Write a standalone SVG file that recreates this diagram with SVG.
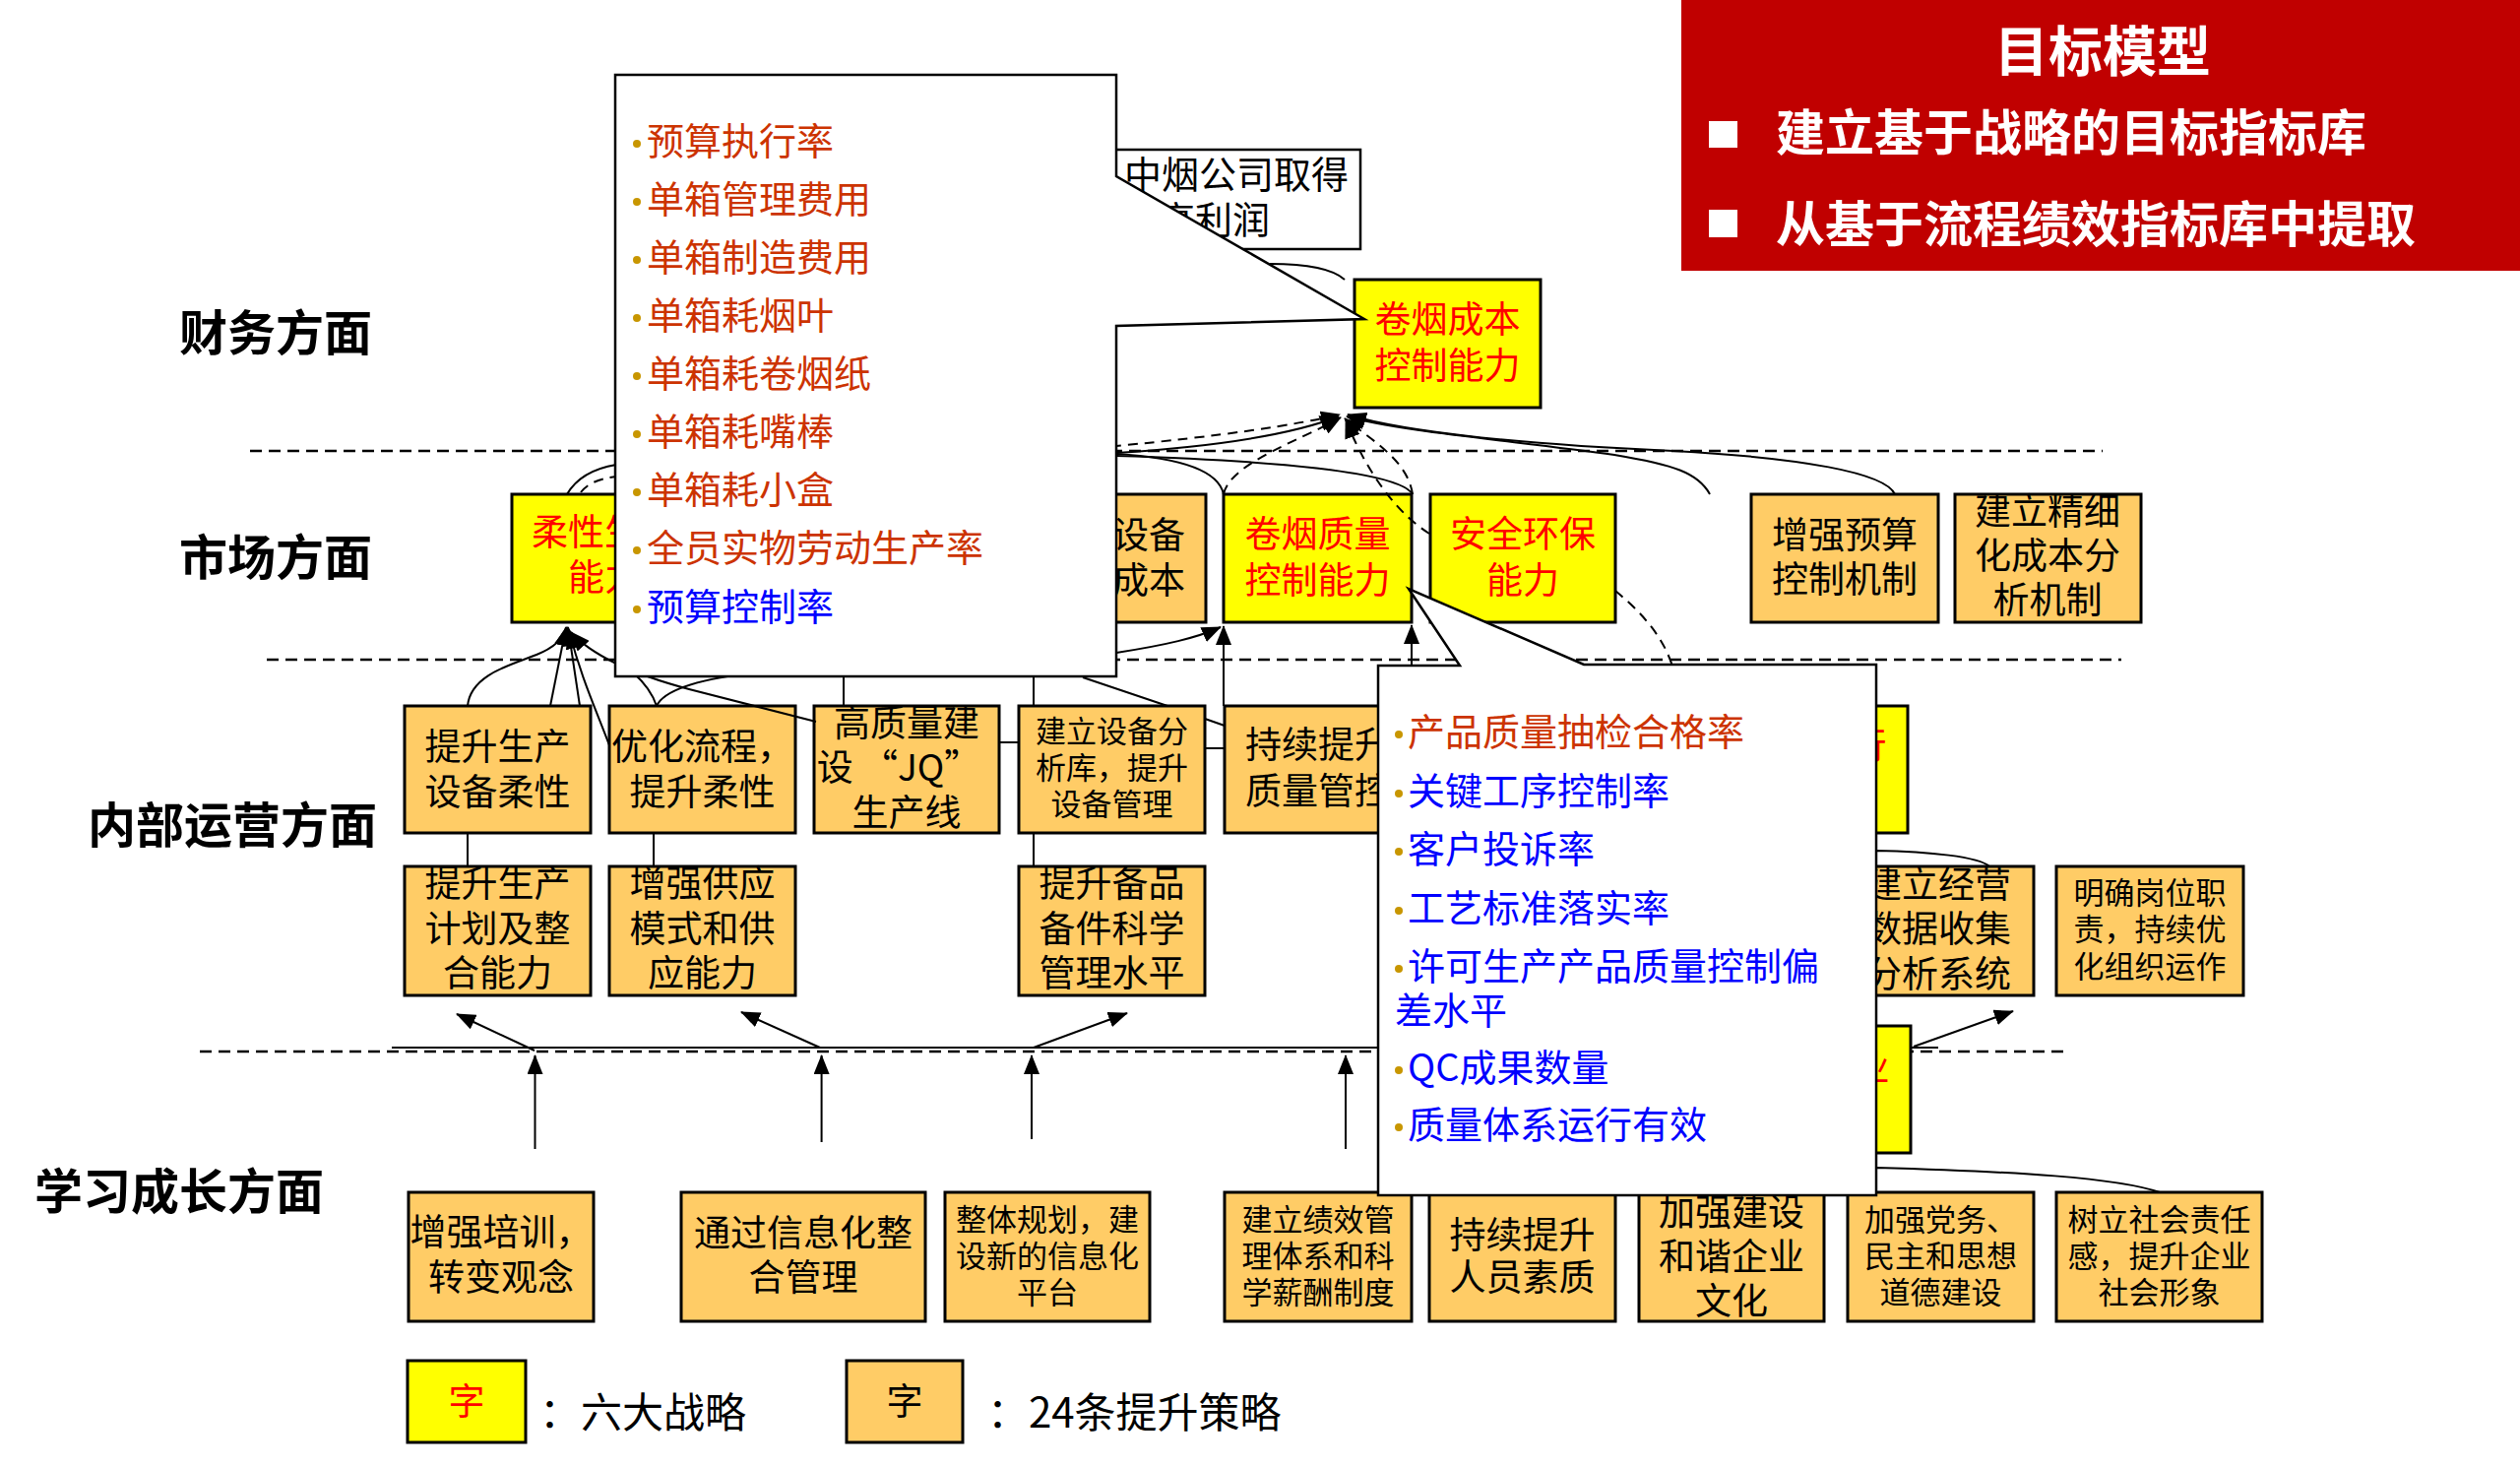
<svg xmlns="http://www.w3.org/2000/svg" width="2560" height="1490" viewBox="0 0 2560 1490">
<defs>
<marker id="ah" viewBox="0 0 20 16" refX="19" refY="8" markerWidth="20" markerHeight="16" markerUnits="userSpaceOnUse" orient="auto"><path d="M0,0 L20,8 L0,16 z" fill="#000"/></marker>
<style>
text{font-family:"Noto Sans CJK SC","Noto Sans CJK JP",sans-serif;}
.box{stroke:#000;stroke-width:3}
.y{fill:#FFFF00}
.o{fill:#FFCC66}
.t{font-size:37px;text-anchor:middle;fill:#000}
.ts{font-size:31px}
.r{fill:#FF0000}
.lbl{font-weight:700;font-size:49px;fill:#000}
.hd{font-weight:700;fill:#fff}
.pop{fill:#fff;stroke:#000;stroke-width:2.5}
.pt{font-size:38px}
.or{fill:#CC3300}
.bl{fill:#0000FF}
.dot{fill:#C89600}
.sep{stroke:#000;stroke-width:2.5;stroke-dasharray:12 7;fill:none}
.c{stroke:#000;stroke-width:2;fill:none}
.cd{stroke-dasharray:10 7}
.lg{font-size:42px;fill:#000}
</style>
</defs>
<rect width="2560" height="1490" fill="#fff"/>

<g id="separators">
<path class="sep" d="M254,458 H2136"/>
<path class="sep" d="M271,670 H2155"/>
<path class="sep" d="M203,1068 H2100"/>
</g>

<g id="layer-labels">
<text class="lbl" x="182" y="356">财务方面</text>
<text class="lbl" x="182" y="584">市场方面</text>
<text class="lbl" x="89" y="856">内部运营方面</text>
<text class="lbl" x="35" y="1228">学习成长方面</text>
</g>

<g id="header">
<rect x="1708" y="0" width="852" height="275" fill="#C00000"/>
<text class="hd" x="2136" y="72" font-size="55" text-anchor="middle">目标模型</text>
<rect x="1736" y="123" width="29" height="27" fill="#fff"/>
<text class="hd" x="1804" y="153" font-size="50">建立基于战略的目标指标库</text>
<rect x="1736" y="213" width="29" height="28" fill="#fff"/>
<text class="hd" x="1804" y="246" font-size="50">从基于流程绩效指标库中提取</text>
</g>

<g id="node-zhongyan">
<rect x="1000" y="152" width="382" height="101" fill="#fff" stroke="#000" stroke-width="2.5"/>
<text class="pt" x="1142" y="191">中烟公司取得</text>
<text class="pt" x="1138" y="237">较高利润</text>
</g>

<g id="node-cost">
<rect class="box y" x="1376" y="284" width="189" height="130"/>
<text class="t r" x="1470.5" font-size="38" y="338">卷烟成本</text>
<text class="t r" x="1470.5" font-size="38" y="385">控制能力</text>
</g>

<g id="node-flex">
<rect class="box y" x="520" y="502" width="188" height="130"/>
<text class="t r" x="614" y="554">柔性生产</text>
<text class="t r" x="614" y="600">能力</text>
</g>
<g id="node-equip-cost">
<rect class="box o" x="1035" y="502" width="190" height="130"/>
<text class="t" x="1130" y="557">降低设备</text>
<text class="t" x="1130" y="603">维修成本</text>
</g>
<g id="node-quality">
<rect class="box y" x="1243" y="502" width="191" height="130"/>
<text class="t r" x="1338.5" y="556">卷烟质量</text>
<text class="t r" x="1338.5" y="603">控制能力</text>
</g>
<g id="node-safety">
<rect class="box y" x="1453" y="502" width="188" height="130"/>
<text class="t r" x="1547" y="556">安全环保</text>
<text class="t r" x="1547" y="603">能力</text>
</g>
<g id="node-budget">
<rect class="box o" x="1779" y="502" width="190" height="130"/>
<text class="t" x="1874" y="557">增强预算</text>
<text class="t" x="1874" y="602">控制机制</text>
</g>
<g id="node-finecost">
<rect class="box o" x="1986" y="502" width="189" height="130"/>
<text class="t" x="2080" y="533">建立精细</text>
<text class="t" x="2080" y="578">化成本分</text>
<text class="t" x="2080" y="623">析机制</text>
</g>

<g id="node-a">
<rect class="box o" x="411" y="717" width="189" height="129"/>
<text class="t" x="505.5" y="772">提升生产</text>
<text class="t" x="505.5" y="818">设备柔性</text>
</g>
<g id="node-b">
<rect class="box o" x="619" y="717" width="189" height="129"/>
<text class="t" x="713.5" y="772">优化流程，</text>
<text class="t" x="713.5" y="818">提升柔性</text>
</g>
<g id="node-c">
<rect class="box o" x="827" y="717" width="188" height="129"/>
<text class="t" x="921" y="748">高质量建</text>
<text class="t" x="913" y="793">设 “JQ”</text>
<text class="t" x="921" y="839">生产线</text>
</g>
<g id="node-d">
<rect class="box o" x="1035" y="717" width="189" height="129"/>
<text class="t ts" x="1129.5" y="754">建立设备分</text>
<text class="t ts" x="1129.5" y="791">析库，提升</text>
<text class="t ts" x="1129.5" y="828">设备管理</text>
</g>
<g id="node-e">
<rect class="box o" x="1244" y="717" width="190" height="129"/>
<text class="t" x="1339" y="770">持续提升</text>
<text class="t" x="1339" y="817">质量管控</text>
</g>
<g id="node-f">
<rect class="box y" x="1747" y="717" width="191" height="129"/>
<text class="t r" x="1842.5" y="771">提升执行</text>
<text class="t r" x="1842.5" y="817">能力</text>
</g>

<g id="node-g">
<rect class="box o" x="411" y="880" width="189" height="131"/>
<text class="t" x="505.5" y="911">提升生产</text>
<text class="t" x="505.5" y="957">计划及整</text>
<text class="t" x="505.5" y="1002">合能力</text>
</g>
<g id="node-h">
<rect class="box o" x="619" y="880" width="189" height="131"/>
<text class="t" x="713.5" y="911">增强供应</text>
<text class="t" x="713.5" y="957">模式和供</text>
<text class="t" x="713.5" y="1002">应能力</text>
</g>
<g id="node-i">
<rect class="box o" x="1035" y="880" width="189" height="131"/>
<text class="t" x="1129.5" y="911">提升备品</text>
<text class="t" x="1129.5" y="957">备件科学</text>
<text class="t" x="1129.5" y="1002">管理水平</text>
</g>
<g id="node-j">
<rect class="box o" x="1872" y="880" width="194" height="131"/>
<text class="t" x="1969" y="912">建立经营</text>
<text class="t" x="1969" y="957">数据收集</text>
<text class="t" x="1969" y="1003">分析系统</text>
</g>
<g id="node-k">
<rect class="box o" x="2089" y="880" width="190" height="131"/>
<text class="t ts" x="2184" y="918">明确岗位职</text>
<text class="t ts" x="2184" y="955">责，持续优</text>
<text class="t ts" x="2184" y="993">化组织运作</text>
</g>
<g id="node-l">
<rect class="box y" x="1750" y="1042" width="191" height="129"/>
<text class="t r" x="1845.5" y="1098">和谐企业</text>
<text class="t r" x="1845.5" y="1144">建设</text>
</g>

<g id="node-m">
<rect class="box o" x="415" y="1211" width="188" height="131"/>
<text class="t" x="509" y="1265">增强培训，</text>
<text class="t" x="509" y="1311">转变观念</text>
</g>
<g id="node-n">
<rect class="box o" x="692" y="1211" width="248" height="131"/>
<text class="t" x="816" y="1266">通过信息化整</text>
<text class="t" x="816" y="1311">合管理</text>
</g>
<g id="node-o">
<rect class="box o" x="960" y="1211" width="208" height="131"/>
<text class="t ts" x="1064" y="1250">整体规划，建</text>
<text class="t ts" x="1064" y="1287">设新的信息化</text>
<text class="t ts" x="1064" y="1324">平台</text>
</g>
<g id="node-p">
<rect class="box o" x="1244" y="1211" width="190" height="131"/>
<text class="t ts" x="1339" y="1250">建立绩效管</text>
<text class="t ts" x="1339" y="1287">理体系和科</text>
<text class="t ts" x="1339" y="1324">学薪酬制度</text>
</g>
<g id="node-q">
<rect class="box o" x="1452" y="1211" width="189" height="131"/>
<text class="t" x="1546.5" y="1268">持续提升</text>
<text class="t" x="1546.5" y="1311">人员素质</text>
</g>
<g id="node-r">
<rect class="box o" x="1665" y="1211" width="188" height="131"/>
<text class="t" x="1759" y="1245">加强建设</text>
<text class="t" x="1759" y="1290">和谐企业</text>
<text class="t" x="1759" y="1335">文化</text>
</g>
<g id="node-s">
<rect class="box o" x="1877" y="1211" width="189" height="131"/>
<text class="t ts" x="1971.5" y="1250">加强党务、</text>
<text class="t ts" x="1971.5" y="1287">民主和思想</text>
<text class="t ts" x="1971.5" y="1324">道德建设</text>
</g>
<g id="node-t">
<rect class="box o" x="2089" y="1211" width="209" height="131"/>
<text class="t ts" x="2193.5" y="1250">树立社会责任</text>
<text class="t ts" x="2193.5" y="1287">感，提升企业</text>
<text class="t ts" x="2193.5" y="1324">社会形象</text>
</g>

<g id="connectors">
<path class="c cd" d="M590,500 Q600,487 626,484 L1134,453 Q1290,438 1361,421" marker-end="url(#ah)"/>
<path class="c" d="M576,502 Q590,478 626,472 L1134,460 Q1290,450 1360,423" marker-end="url(#ah)"/>
<path class="c cd" d="M1243,502 C1250,470 1320,448 1362,424" marker-end="url(#ah)"/>
<path class="c cd" d="M1435,502 C1430,468 1395,448 1366,425" marker-end="url(#ah)"/>
<path class="c cd" d="M1452,542 C1420,522 1388,480 1367,426" marker-end="url(#ah)"/>
<path class="c" d="M1737,502 C1725,480 1700,472 1640,462 C1540,448 1420,438 1368,423" marker-end="url(#ah)"/>
<path class="c" d="M1925,502 C1915,480 1830,465 1700,458 C1560,452 1430,440 1369,421" marker-end="url(#ah)"/>
<path class="c" d="M1000,462 L1134,461 C1200,465 1238,478 1243,502"/>
<path class="c" d="M1000,463 L1134,463 C1300,468 1422,480 1435,502"/>
<path class="c" d="M1290,268 C1330,268 1355,274 1366,284"/>
<path class="c cd" d="M1641,600 C1665,620 1690,645 1700,680"/>

<path class="c" d="M475,717 C478,685 520,675 545,665 C565,657 573,648 576,637" marker-end="url(#ah)"/>
<path class="c" d="M559,717 L575,637" marker-end="url(#ah)"/>
<path class="c" d="M589,717 L577,637" marker-end="url(#ah)"/>
<path class="c" d="M619,757 C606,722 590,688 578,640" marker-end="url(#ah)"/>
<path class="c" d="M829,733 L700,700 C655,688 605,670 580,642" marker-end="url(#ah)"/>
<path class="c" d="M667,717 C675,700 712,690 760,684"/>
<path class="c" d="M667,717 C662,702 653,692 644,684"/>

<path class="c" d="M1000,668 L1134,663 C1185,655 1215,648 1240,637" marker-end="url(#ah)"/>
<path class="c" d="M1243,717 L1243,636" marker-end="url(#ah)"/>
<path class="c" d="M1434,717 L1434,635" marker-end="url(#ah)"/>
<path class="c" d="M857,688 V717 M1050,688 V717"/>
<path class="c" d="M1100,688 L1186,717 M1224,730 L1244,737"/>
<path class="c" d="M1015,754 H1035 M1224,760 H1244"/>
<path class="c" d="M475,846 V880 M664,846 V880 M1050,846 V880"/>
<path class="c" d="M1800,866 L1906,864 C1960,865 2010,870 2021,880"/>
<path class="c" d="M1800,1187 L1906,1186 C2050,1190 2150,1196 2194,1211"/>

<path class="c" d="M398,1064 H1750 M1941,1064 H1969"/>
<path class="c" d="M543.5,1167 V1072" marker-end="url(#ah)"/>
<path class="c" d="M834.6,1160 V1072" marker-end="url(#ah)"/>
<path class="c" d="M1048,1157 V1072" marker-end="url(#ah)"/>
<path class="c" d="M1367,1167 V1072" marker-end="url(#ah)"/>
<path class="c" d="M543,1067 L464,1030" marker-end="url(#ah)"/>
<path class="c" d="M833,1064 L753,1028" marker-end="url(#ah)"/>
<path class="c" d="M1050,1064 L1145,1029" marker-end="url(#ah)"/>
<path class="c" d="M1944,1063 L2045,1027" marker-end="url(#ah)"/>
</g>

<g id="popup-finance">
<path class="pop" d="M625,76 H1134 V179 L1386,324 L1134,331 V687 H625 Z"/>
<g class="dot">
<circle cx="647" cy="146" r="4"/><circle cx="647" cy="205" r="4"/><circle cx="647" cy="264" r="4"/>
<circle cx="647" cy="323" r="4"/><circle cx="647" cy="382" r="4"/><circle cx="647" cy="441" r="4"/>
<circle cx="647" cy="500" r="4"/><circle cx="647" cy="559" r="4"/><circle cx="647" cy="619" r="4"/>
</g>
<text class="pt or" x="657" y="157">预算执行率</text>
<text class="pt or" x="657" y="216">单箱管理费用</text>
<text class="pt or" x="657" y="275">单箱制造费用</text>
<text class="pt or" x="657" y="334">单箱耗烟叶</text>
<text class="pt or" x="657" y="393">单箱耗卷烟纸</text>
<text class="pt or" x="657" y="452">单箱耗嘴棒</text>
<text class="pt or" x="657" y="511">单箱耗小盒</text>
<text class="pt or" x="657" y="570">全员实物劳动生产率</text>
<text class="pt bl" x="657" y="630">预算控制率</text>
</g>

<g id="popup-quality">
<path class="pop" d="M1400,676 H1483 L1431,598 L1609,675 H1906 V1214 H1400 Z"/>
<g class="dot">
<circle cx="1421" cy="746" r="4"/><circle cx="1421" cy="806" r="4"/><circle cx="1421" cy="865" r="4"/>
<circle cx="1421" cy="925" r="4"/><circle cx="1421" cy="984" r="4"/><circle cx="1421" cy="1087" r="4"/>
<circle cx="1421" cy="1145" r="4"/>
</g>
<text class="pt or" x="1430" y="757">产品质量抽检合格率</text>
<text class="pt bl" x="1430" y="817">关键工序控制率</text>
<text class="pt bl" x="1430" y="876">客户投诉率</text>
<text class="pt bl" x="1430" y="936">工艺标准落实率</text>
<text class="pt bl" x="1430" y="995">许可生产产品质量控制偏</text>
<text class="pt bl" x="1417" y="1040">差水平</text>
<text class="pt bl" x="1430" y="1098">QC成果数量</text>
<text class="pt bl" x="1430" y="1156">质量体系运行有效</text>
</g>

<g id="legend">
<rect class="box y" x="414" y="1382" width="120" height="83"/>
<text class="t r" x="474" y="1437" font-size="34">字</text>
<text class="lg" x="548" y="1450">：六大战略</text>
<rect class="box o" x="860" y="1382" width="118" height="83"/>
<text class="t" x="919" y="1437" font-size="34">字</text>
<text class="lg" x="1003" y="1450">：24条提升策略</text>
</g>
</svg>
